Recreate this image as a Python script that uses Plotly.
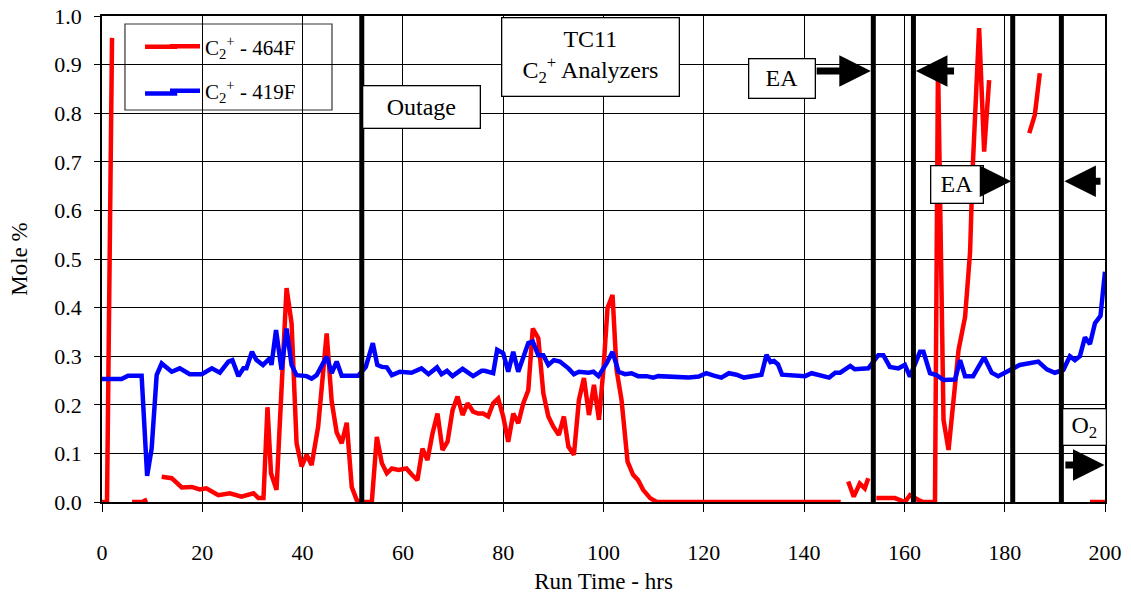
import plotly.graph_objects as go

# ---------------- data ----------------
red_x = [0, 1, 2, None,
         6, 7, 8, 9, None,
         11.9, 13.9, 15.9, 17.9, 19.5, 20.8, 23.2, 25.5, 27.8, 30.2, 31.2, 32.2, 33.0, 33.7, 34.8,
         36.8, 37.8, 38.8, 39.8, 40.8, 41.8, 43.1, 44.8, 45.8, 46.8, 47.8, 48.8, 49.8, 50.8, 51.5,
         52.4, 53.8, 54.8, 55.8, 56.8, 57.8, 59.1, 60.7, 61.8, 62.9, 63.9, 64.9, 65.9, 66.9, 67.9,
         68.9, 69.9, 70.9, 71.9, 72.9, 74.0, 75.0, 76.0, 77.0, 78.0, 79.0, 80.0, 81.0, 82.0, 83.0,
         84.0, 85.0, 85.9, 87.0, 88.0, 89.0, 90.0, 91.1, 92.1, 93.0, 94.1, 95.1, 96.1, 97.1, 98.1,
         99.1, 100.0, 100.8, 101.8, 102.6, 103.6, 104.8, 105.9, 106.9, 107.9, 109.3, 110.6, 120,
         130, 140, 147.3, None,
         148.8, 149.9, 151.1, 152.1, 152.8, None,
         154.4, 158.1, 160.1, 161.1, 162.8, 163.8, 166.1, 166.7, 167.8, 168.8, 170.8, 172.1, 173.1,
         173.6, 174.9, 175.9, 176.9, None,
         184.9, 186.0, 187.0, None,
         197, 198, 199, 200]
red_y = [0, 0, 0.955, None,
         0, 0, 0, 0.005, None,
         0.052, 0.049, 0.030, 0.031, 0.026, 0.028, 0.014, 0.018, 0.011, 0.018, 0.008, 0.008, 0.195, 0.059, 0.025,
         0.44, 0.368, 0.121, 0.073, 0.097, 0.076, 0.155, 0.347, 0.207, 0.143, 0.121, 0.163, 0.031, 0.004, 0.0,
         0.0, 0.0, 0.134, 0.080, 0.059, 0.069, 0.066, 0.069, 0.056, 0.045, 0.110, 0.086, 0.141, 0.182, 0.107,
         0.124, 0.189, 0.217, 0.179, 0.203, 0.186, 0.182, 0.182, 0.176, 0.203, 0.213, 0.176, 0.124, 0.182, 0.162,
         0.203, 0.230, 0.357, 0.337, 0.224, 0.176, 0.155, 0.138, 0.176, 0.114, 0.097, 0.210, 0.255, 0.179, 0.241,
         0.169, 0.275, 0.399, 0.426, 0.272, 0.210, 0.083, 0.056, 0.045, 0.025, 0.008, 0.0, 0.0,
         0.0, 0.0, 0.0, None,
         0.042, 0.011, 0.038, 0.028, 0.049, None,
         0.008, 0.008, 0.0, 0.014, 0.004, 0.0, 0.0, 0.906, 0.169, 0.107, 0.313, 0.381, 0.515,
         0.683, 0.975, 0.721, 0.868, None,
         0.759, 0.796, 0.882, None,
         0, 0, 0, 0]

blue_x = [0, 3.9, 5.2, 7.9, 9.0, 9.9, 10.9, 11.9, 13.9, 15.5, 17.5, 19.9, 21.9, 23.5, 25.2, 26.0, 27.2,
          28.2, 28.8, 29.9, 30.8, 32.1, 33.5, 33.8, 34.7, 35.8, 36.8, 37.8, 38.8, 40.8, 41.8, 42.8, 44.8,
          45.8, 46.8, 47.8, 51.1, 52.6, 54.0, 54.9, 55.8, 56.8, 57.8, 59.4, 61.7, 63.7, 65.1, 66.8, 67.7,
          68.8, 69.9, 71.9, 74.0, 75.7, 76.3, 78.0, 78.8, 80.0, 81.0, 82.0, 83.0, 85.0, 85.9, 87.0, 88.0,
          89.0, 90.1, 91.3, 93.0, 94.1, 95.1, 97.0, 98.0, 99.0, 100.6, 101.8, 103.0, 104.3, 105.6, 106.9,
          108.6, 109.9, 110.9,
          113, 115, 117, 119, 120.5, 122, 123.5, 125, 126.5, 128, 130, 131.5, 132.5, 133.3, 134.0, 134.8, 135.6,
          140.2, 141.5, 143.8, 145, 146.2, 147.2, 149.2, 150.1, 152.8, 154.8, 155.8,
          157.1, 158.8, 160.1, 161.1, 163.1, 163.8, 165.1, 166.4, 167.8, 170.1, 171.1, 172.1, 173.7, 175.9,
          177.4, 178.7, 181.0, 183.0, 186.7, 188.4, 190.0, 191.7, 193.0, 194, 195, 196, 197, 198, 199.1, 200]
blue_y = [0.253, 0.253, 0.260, 0.260, 0.054, 0.110, 0.261, 0.285, 0.268, 0.275, 0.263, 0.263, 0.275, 0.266,
          0.289, 0.292, 0.259, 0.275, 0.275, 0.309, 0.292, 0.282, 0.296, 0.282, 0.354, 0.272, 0.357, 0.282,
          0.261, 0.259, 0.254, 0.261, 0.299, 0.265, 0.289, 0.260, 0.260, 0.278, 0.327, 0.282, 0.278, 0.277,
          0.261, 0.268, 0.266, 0.275, 0.263, 0.277, 0.263, 0.270, 0.259, 0.274, 0.259, 0.270, 0.270, 0.265,
          0.313, 0.306, 0.268, 0.309, 0.268, 0.327, 0.330, 0.302, 0.302, 0.282, 0.292, 0.289, 0.275, 0.263,
          0.268, 0.266, 0.268, 0.259, 0.285, 0.309, 0.268, 0.263, 0.265, 0.259, 0.259, 0.256, 0.259,
          0.258, 0.255, 0.256, 0.258, 0.265, 0.260, 0.256, 0.265, 0.262, 0.256, 0.260, 0.262, 0.303, 0.288, 0.290, 0.283, 0.262,
          0.259, 0.265, 0.259, 0.256, 0.266, 0.266, 0.280, 0.273, 0.275, 0.302, 0.302,
          0.278, 0.275, 0.282, 0.258, 0.309, 0.309, 0.265, 0.261, 0.251, 0.252, 0.292, 0.259, 0.259, 0.298,
          0.266, 0.259, 0.272, 0.282, 0.289, 0.273, 0.266, 0.272, 0.300, 0.292, 0.300, 0.339, 0.325, 0.368, 0.383, 0.474]

event_lines = [51.8, 153.8, 161.8, 181.6, 191.3]

x_ticks = [0, 20, 40, 60, 80, 100, 120, 140, 160, 180, 200]
y_ticks = [0.0, 0.1, 0.2, 0.3, 0.4, 0.5, 0.6, 0.7, 0.8, 0.9, 1.0]
y_tick_labels = [f"{v:.1f}" for v in y_ticks]

series_names = ["C<sub>2</sub><sup>+</sup> - 464F", "C<sub>2</sub><sup>+</sup> - 419F"]
series_colors = ["#ff0000", "#0000ff"]

FONT = "Liberation Serif, Times New Roman, serif"

fig = go.Figure()
fig.add_trace(go.Scatter(x=red_x, y=red_y, mode="lines", name=series_names[0], legendgroup="a",
                         line=dict(color=series_colors[0], width=4.5), connectgaps=False))
fig.add_trace(go.Scatter(x=blue_x, y=blue_y, mode="lines", name=series_names[1], legendgroup="b",
                         line=dict(color=series_colors[1], width=4.5)))

for xv in event_lines:
    fig.add_shape(type="line", x0=xv, x1=xv, y0=-0.004, y1=1.004, xref="x", yref="y",
                  line=dict(color="black", width=5), layer="above")

# legend frame (white box with border) and longer line samples
fig.add_shape(type="rect", xref="paper", yref="paper", x0=0.0229, x1=0.2293, y0=0.8066, y1=0.9835,
              fillcolor="white", line=dict(color="#333", width=1.2), layer="below")
for yy, col in zip([0.9365, 0.8405], series_colors):
    fig.add_shape(type="line", xref="paper", yref="paper", x0=0.0429, x1=0.075, y0=yy, y1=yy,
                  line=dict(color=col, width=4.5), layer="above")

# text boxes
def box(x, y, text, w, h):
    fig.add_annotation(x=x, y=y, xref="x", yref="y", text=text, showarrow=False,
                       font=dict(family=FONT, size=24, color="black"),
                       bgcolor="white", bordercolor="black", borderwidth=1.3,
                       width=w, height=h, borderpad=1, align="center")

box(63.7, 0.813, "Outage", 114, 39)
box(97.5, 0.915, "TC11<br>C<sub>2</sub><sup>+</sup> Analyzers", 174, 75)
box(135.5, 0.872, "EA", 63, 36)
box(170.4, 0.654, "EA", 49, 34)
box(196.0, 0.155, "O<sub>2</sub>", 40, 33)

# arrows (tip at x,y ; tail at ax,ay)
def arrow(tip_x, tail_x, yv):
    fig.add_annotation(x=tip_x, y=yv, ax=tail_x, ay=yv, xref="x", yref="y", axref="x", ayref="y",
                       text="", showarrow=True, arrowhead=2, arrowsize=0.9, arrowwidth=7,
                       arrowcolor="black", standoff=0, startstandoff=0)

arrow(153.3, 142.2, 0.887)
arrow(162.3, 170.2, 0.887)
arrow(181.3, 175.7, 0.660)
arrow(191.9, 199.4, 0.660)
arrow(199.9, 191.8, 0.076)

fig.update_layout(
    width=1131, height=594,
    margin=dict(l=102, r=26, t=16, b=92, autoexpand=False),
    paper_bgcolor="white", plot_bgcolor="white",
    font=dict(family=FONT, size=22, color="black"),
    legend=dict(x=0.0628, y=0.979, xanchor="left", yanchor="top",
                bgcolor="rgba(0,0,0,0)", borderwidth=0,
                font=dict(family=FONT, size=21, color="black"),
                tracegroupgap=14),
    showlegend=True,
)
fig.update_xaxes(range=[0, 200], tickvals=x_ticks, ticktext=[str(v) for v in x_ticks],
                 automargin=False,
                 showgrid=True, gridcolor="black", gridwidth=1,
                 showline=True, linecolor="black", linewidth=1.5, mirror=True,
                 ticks="outside", ticklen=8, tickcolor="black",
                 tickfont=dict(family=FONT, size=22),
                 ticklabelstandoff=22, zeroline=False,
                 title=dict(text="Run Time - hrs", font=dict(family=FONT, size=23), standoff=10))
fig.update_yaxes(range=[0, 1.0], tickvals=y_ticks, ticktext=y_tick_labels,
                 automargin=False,
                 showgrid=True, gridcolor="black", gridwidth=1,
                 showline=True, linecolor="black", linewidth=1.5, mirror=True,
                 ticks="outside", ticklen=6, tickcolor="black",
                 tickfont=dict(family=FONT, size=22),
                 ticklabelstandoff=8, zeroline=True, zerolinecolor="black", zerolinewidth=2.5,
                 title=dict(text="Mole %", font=dict(family=FONT, size=23), standoff=20))

fig.write_html("out.html")
